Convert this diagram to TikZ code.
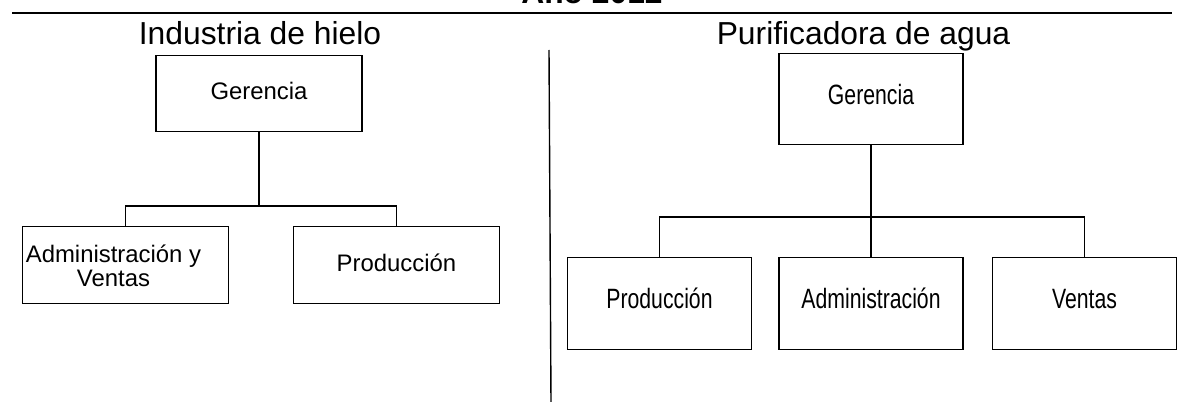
\documentclass[tikz,border=0pt]{standalone}
\usepackage{fontspec}
\setmainfont{Liberation Sans}
\newfontfamily\estrecha[FakeStretch=0.76]{Liberation Sans}
\usepackage{tikz}
\usetikzlibrary{positioning}

\tikzset{
    titulo/.style={font=\fontsize{18.1pt}{20pt}\selectfont\bfseries, inner sep=0pt},
    encabezado/.style={font=\fontsize{18.1pt}{20pt}\selectfont, inner sep=0pt},
    cajaL/.style={draw, line width=0.8pt, inner sep=0pt, minimum width=4.12cm, minimum height=1.53cm,
        font=\fontsize{13.6pt}{13.9pt}\selectfont, text height=9.8pt, text depth=2.7pt},
    cajaR/.style={draw, line width=0.8pt, inner sep=0pt, minimum width=3.68cm, minimum height=1.83cm,
        font=\estrecha\fontsize{15.9pt}{17pt}\selectfont, text height=11.4pt, text depth=5.6pt},
    textoL/.style={inner sep=0pt, align=center, font=\fontsize{13.6pt}{13.9pt}\selectfont},
    linea/.style={line width=0.8pt}
}

\begin{document}
\begin{tikzpicture}[x=0.02cm, y=-0.02cm]
        \useasboundingbox (0, 0) rectangle (1181, 402);
        \clip (0, 0) rectangle (1181, 402);

        \node[titulo, anchor=base] (anio) at (592, 4) {Año 2012};
        \coordinate (reglaA) at (12, 13);
        \coordinate (reglaB) at (1172, 13);
        \draw[linea] (reglaA) -- (reglaB);

        \node[encabezado, anchor=base] (hielo) at (260, 45) {Industria de hielo};
        \node[encabezado, anchor=base] (agua) at (863.5, 45) {Purificadora de agua};

        \coordinate (divA) at (549, 50);
        \coordinate (divB) at (551, 402);
        \draw[linea] (divA) -- (divB);

        % Industria de hielo
        \node[cajaL] (gL) at (259, 93.5) {Gerencia};
        \node[cajaL] (avL) at (125.5, 265) {};
        \node[textoL] (avT) at (113.5, 266) {Administración y\\Ventas};
        \node[cajaL] (prodL) at (396.5, 265) {Producción};
        \coordinate (busL) at (259, 206);

        \draw[linea] (gL) -- (busL);
        \draw[linea] (avL.north) |- (busL) -| (prodL.north);

        % Purificadora de agua
        \node[cajaR] (gR) at (871, 99) {Gerencia};
        \node[cajaR] (prodR) at (659.5, 303.5) {Producción};
        \node[cajaR] (admR) at (871, 303.5) {Administración};
        \node[cajaR] (ventR) at (1084.5, 303.5) {Ventas};
        \coordinate (busR) at (871, 217);

        \draw[linea] (gR) -- (busR);
        \draw[linea] (busR) -- (admR);
        \draw[linea] (prodR.north) |- (busR) -| (ventR.north);
    \end{tikzpicture}
\end{document}
